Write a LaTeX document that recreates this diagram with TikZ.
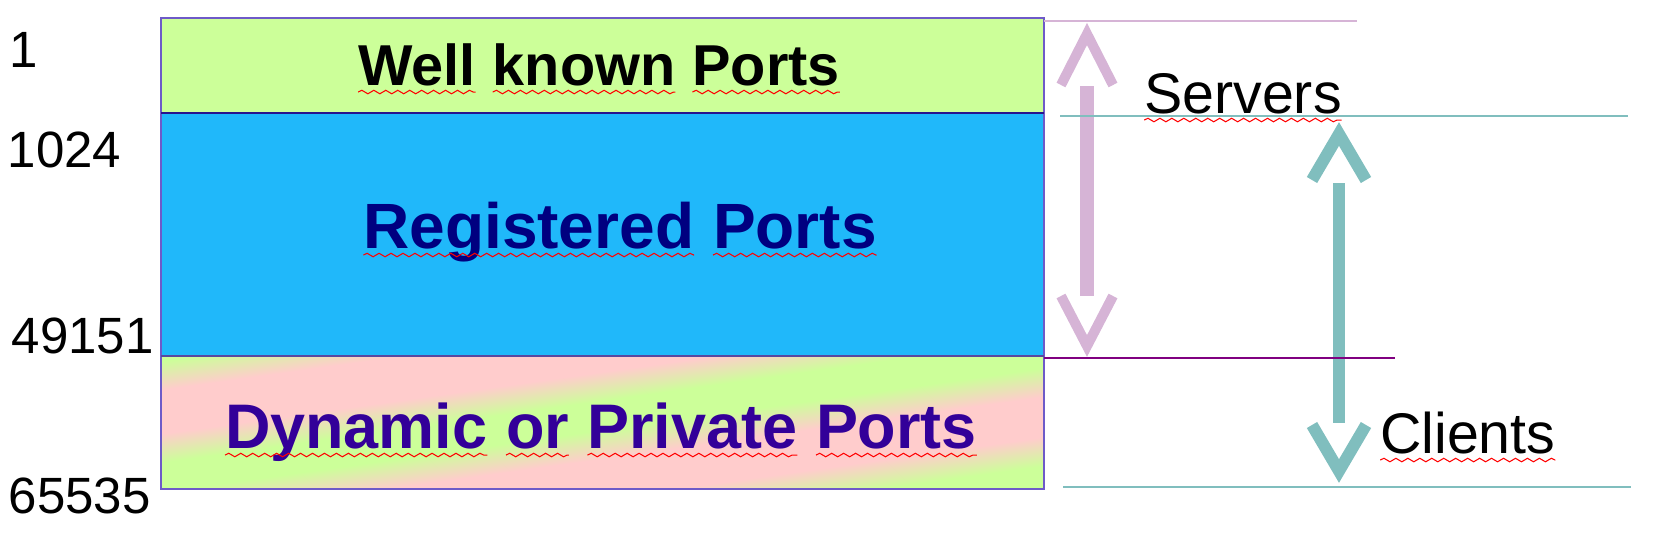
\documentclass[tikz,border=0pt]{standalone}
\usepackage{fontspec}
\setmainfont{Liberation Sans}
\usetikzlibrary{calc,decorations.pathmorphing}

\definecolor{wkgreen}{RGB}{204,255,153}
\definecolor{regblue}{RGB}{32,184,250}
\definecolor{dynpink}{RGB}{255,204,204}
\definecolor{regtext}{RGB}{0,0,128}
\definecolor{dyntext}{RGB}{51,0,153}
\definecolor{srvpink}{RGB}{214,180,214}
\definecolor{clteal}{RGB}{128,190,190}
\definecolor{edgeblue}{RGB}{110,90,200}
\definecolor{rulenavy}{RGB}{40,20,140}
\definecolor{rulepurple}{RGB}{128,0,128}

% red spell-check wave under a word
\newcommand{\spell}[1]{\tikz[baseline=(w.base)]{\node[inner sep=0pt,outer sep=0pt] (w) {#1};
  \draw[red,line width=0.3pt,decorate,decoration={snake,amplitude=0.5pt,segment length=3.4pt}]
    ([yshift=-2pt]w.base west) -- ([yshift=-2pt]w.base east);}}

\pgfdeclareverticalshading{dynmix}{100bp}{color(0bp)=(wkgreen); color(35.5bp)=(wkgreen);
  color(39.5bp)=(dynpink); color(45bp)=(dynpink); color(49bp)=(wkgreen); color(53bp)=(wkgreen);
  color(57bp)=(dynpink); color(63bp)=(dynpink); color(67bp)=(wkgreen); color(100bp)=(wkgreen)}

\begin{document}
\begin{tikzpicture}[x=0.01cm,y=-0.01cm,
  numlbl/.style={anchor=base west,inner sep=0pt,font=\fontsize{14.5pt}{17pt}\selectfont},
  bandlbl/.style={anchor=base,inner sep=0pt},
  sidelbl/.style={anchor=base west,inner sep=0pt,font=\fontsize{16.3pt}{19pt}\selectfont},
  srvshaft/.style={srvpink,line width=3.7pt},
  srvhead/.style={srvpink,line width=2.85pt},
  clshaft/.style={clteal,line width=3.4pt},
  clhead/.style={clteal,line width=3.4pt}]
  \useasboundingbox (0,0) rectangle (1656,536);

  % the three port ranges
  \fill[wkgreen] (161,18) rectangle (1044,113);
  \fill[regblue] (161,113) rectangle (1044,356);
  \coordinate (dcen) at (602.5,422.5);
  \begin{scope}
    \clip (161,356) rectangle (1044,489);
    \begin{scope}[transform canvas={rotate around={8:(dcen)}}]
      \shade[shading=dynmix] ($(dcen)+(-560,-180)$) rectangle ($(dcen)+(560,180)$);
    \end{scope}
  \end{scope}
  \draw[edgeblue,line width=0.45pt] (161,18) rectangle (1044,489);
  \draw[rulenavy,line width=0.85pt] (161,113) -- (1044,113);
  \draw[edgeblue!80!black,line width=0.6pt] (161,356) -- (1044,356);

  \node[bandlbl,font=\fontsize{16.4pt}{19pt}\selectfont\bfseries] (wkp) at (599,85)
    {\spell{Well} \spell{known} \spell{Ports}};
  \node[bandlbl,text=regtext,font=\fontsize{18.2pt}{21pt}\selectfont\bfseries] (regp) at (620,248)
    {\spell{Registered} \spell{Ports}};
  \node[bandlbl,text=dyntext,font=\fontsize{17.9pt}{20pt}\selectfont\bfseries] (dynp) at (601,448)
    {\spell{Dynamic} \spell{or} \spell{Private} \spell{Ports}};

  % port numbers
  \node[numlbl] (n1) at (9,67) {1};
  \node[numlbl] (n1024) at (7,167) {1024};
  \node[numlbl] (n49151) at (11,353) {49151};
  \node[numlbl] (n65535) at (8,513) {65535};

  % servers arrow
  \coordinate (sa) at (1087,34);
  \coordinate (sb) at (1087,346);
  \draw[srvshaft] (1087,86) -- (1087,296);
  \draw[srvhead] ($(sa)+(-26,51)$) -- (sa) -- ($(sa)+(26,51)$);
  \draw[srvhead] ($(sb)+(-26,-50)$) -- (sb) -- ($(sb)+(26,-50)$);

  % clients arrow
  \coordinate (ca) at (1339,134);
  \coordinate (cb) at (1339,471);
  \draw[clshaft] (1339,183) -- (1339,423);
  \draw[clhead] ($(ca)+(-27,46)$) -- (ca) -- ($(ca)+(27,46)$);
  \draw[clhead] ($(cb)+(-27,-46)$) -- (cb) -- ($(cb)+(27,-46)$);

  % range lines
  \coordinate (l1a) at (1044,21);   \coordinate (l1b) at (1357,21);
  \coordinate (l2a) at (1060,116);  \coordinate (l2b) at (1628,116);
  \coordinate (l3a) at (1044,358);  \coordinate (l3b) at (1395,358);
  \coordinate (l4a) at (1063,487);  \coordinate (l4b) at (1631,487);
  \draw[srvpink,line width=0.7pt] (l1a) -- (l1b);
  \draw[clteal,line width=0.55pt] (l2a) -- (l2b);
  \draw[rulepurple,line width=0.45pt] (l3a) -- (l3b);
  \draw[clteal,line width=0.55pt] (l4a) -- (l4b);

  \node[sidelbl] (srv) at (1143,113) {\spell{Servers}};
  \node[sidelbl] (cli) at (1379,453) {\spell{Clients}};
\end{tikzpicture}
\end{document}
